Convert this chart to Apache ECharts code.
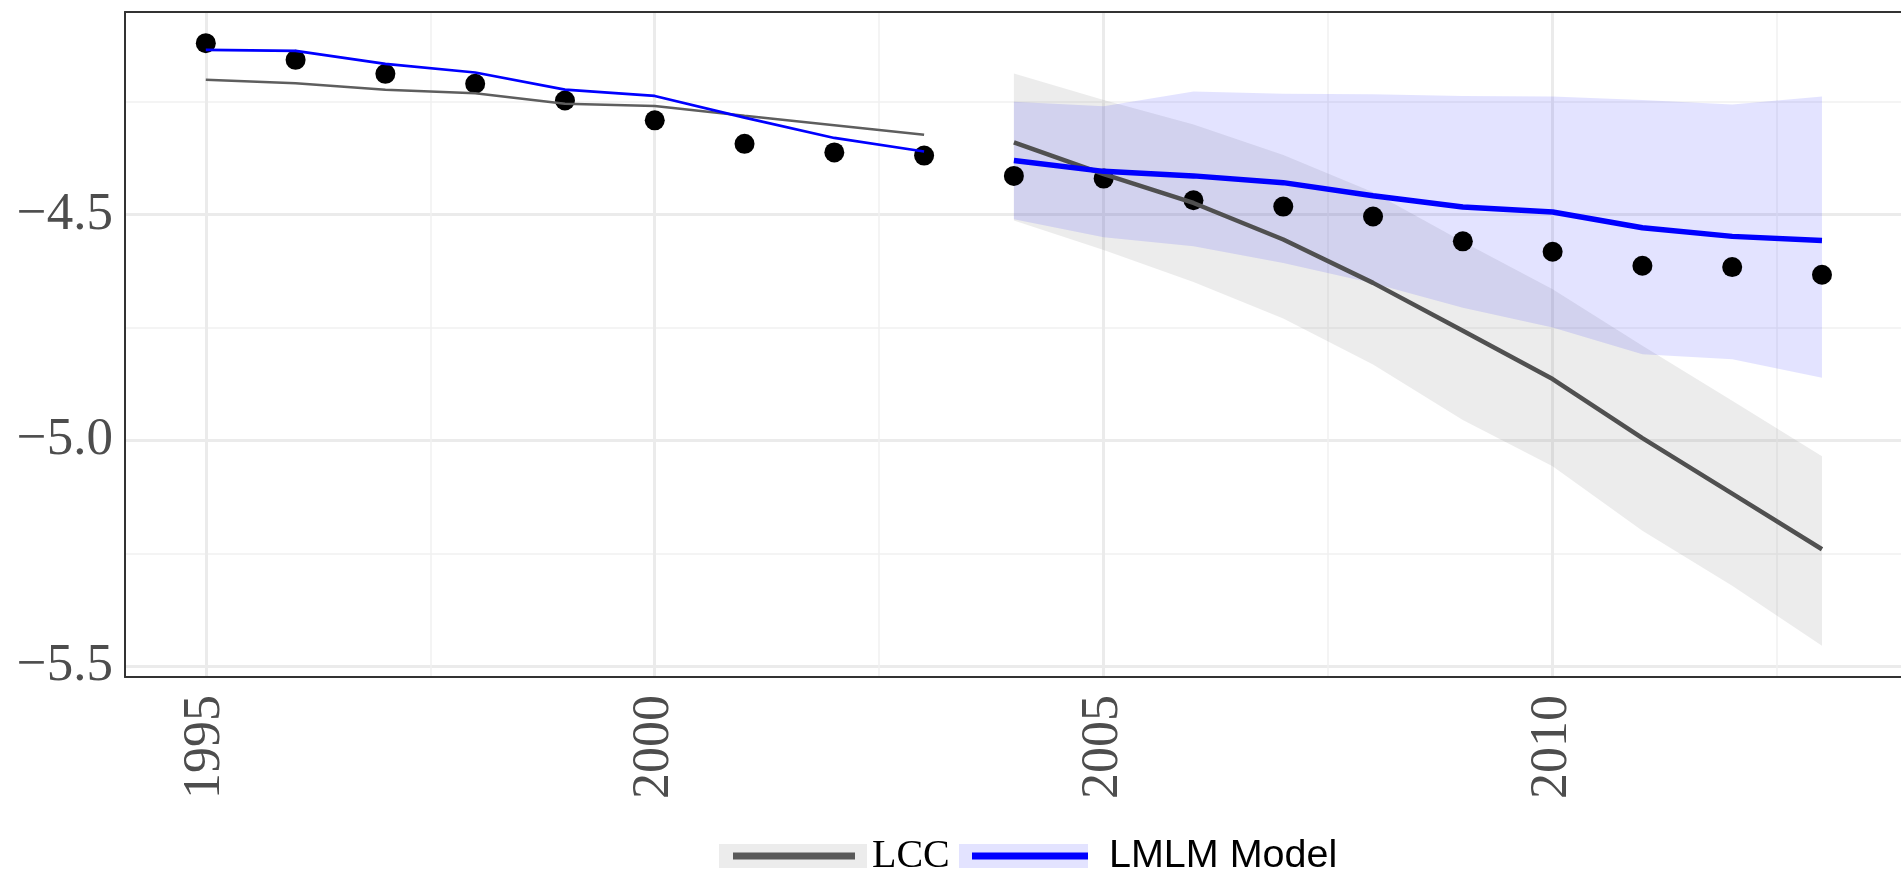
<!DOCTYPE html>
<html>
<head>
<meta charset="utf-8">
<script src="https://cdn.jsdelivr.net/npm/echarts@6/dist/echarts.min.js"></script>
<style>html,body{margin:0;padding:0;background:#fff;}#chart{width:1901px;height:879px;}</style>
</head>
<body>
<div id="chart"></div>
<script>
// ---- data ----
const obsYears = [1995,1996,1997,1998,1999,2000,2001,2002,2003,2004,2005,2006,2007,2008,2009,2010,2011,2012,2013];
const observed = [-4.120,-4.157,-4.188,-4.210,-4.247,-4.291,-4.343,-4.362,-4.369,-4.414,-4.420,-4.468,-4.482,-4.504,-4.559,-4.582,-4.613,-4.616,-4.633];
const fitYears = [1995,1996,1997,1998,1999,2000,2001,2002,2003];
const lmlmFit = [-4.135,-4.137,-4.166,-4.185,-4.223,-4.237,-4.285,-4.330,-4.360];
const lccFit = [-4.201,-4.209,-4.223,-4.231,-4.254,-4.259,-4.281,-4.302,-4.323];
const predYears = [2004,2005,2006,2007,2008,2009,2010,2011,2012,2013];
const lmlmPred = [-4.380,-4.404,-4.414,-4.429,-4.458,-4.483,-4.494,-4.529,-4.548,-4.557];
const lccPred = [-4.340,-4.410,-4.474,-4.555,-4.651,-4.757,-4.864,-4.995,-5.118,-5.241];
const lccHi = [-4.187,-4.246,-4.300,-4.368,-4.450,-4.560,-4.665,-4.790,-4.912,-5.035];
const lccLo = [-4.513,-4.578,-4.649,-4.730,-4.832,-4.955,-5.057,-5.200,-5.322,-5.455];
const lmlmHi = [-4.250,-4.260,-4.227,-4.232,-4.233,-4.237,-4.238,-4.246,-4.256,-4.238];
const lmlmLo = [-4.510,-4.550,-4.570,-4.607,-4.652,-4.706,-4.750,-4.809,-4.820,-4.861];
const xTicks = [1995,2000,2005,2010];
const xMinorTicks = [1997.5,2002.5,2007.5,2012.5];
const yTicks = [-5.5,-5.0,-4.5];
const yMinorTicks = [-5.25,-4.75,-4.25];
const legendNames = ['LCC','LMLM Model'];

// ---- helpers ----
const pairs = (xs, ys) => xs.map((x, i) => [x, ys[i]]);
function bandSeries(name, xs, lo, hi, fill, z) {
  return {
    type: 'custom', name: name, silent: true, clip: true, z: z,
    data: xs.map((x, i) => [x, lo[i], hi[i]]),
    encode: { x: 0, y: [1, 2] },
    renderItem: function (params, api) {
      if (params.dataIndex !== 0) return null;
      const pts = [];
      for (let i = 0; i < xs.length; i++) pts.push(api.coord([xs[i], hi[i]]));
      for (let i = xs.length - 1; i >= 0; i--) pts.push(api.coord([xs[i], lo[i]]));
      return { type: 'polygon', shape: { points: pts }, style: { fill: fill } };
    }
  };
}
function svgIcon(w, h, boxW, boxFill, x1, x2, stroke) {
  const svg = "<svg xmlns='http://www.w3.org/2000/svg' width='" + w + "' height='" + h + "' viewBox='0 0 " + w + " " + h + "'>" +
    "<rect x='0' y='0' width='" + boxW + "' height='" + h + "' fill='" + boxFill + "'/>" +
    "<line x1='" + x1 + "' y1='" + (h / 2) + "' x2='" + x2 + "' y2='" + (h / 2) + "' stroke='" + stroke + "' stroke-width='7'/></svg>";
  return 'image://data:image/svg+xml;charset=utf-8,' + encodeURIComponent(svg);
}
const minusFmt = v => (v < 0 ? '\u2212' : '') + Math.abs(v).toFixed(1);

const XMIN = 1994.1, XMAX = 2013.88, YMIN = -5.524, YMAX = -4.051;
const axisColor = '#333333';
const labelFont = 'Liberation Serif';

const chart = echarts.init(document.getElementById('chart'), null, { renderer: 'canvas' });
chart.setOption({
  backgroundColor: '#ffffff',
  animation: false,
  grid: { left: 125, right: 0, top: 12, bottom: 202, containLabel: false },
  legend: [
    {
      data: [legendNames[0]], left: 719, top: 836, padding: 0, selectedMode: false,
      itemWidth: 148, itemHeight: 24,
      icon: svgIcon(148, 24, 148, '#ececec', 14, 136, '#595959'),
      textStyle: { fontFamily: 'Liberation Serif', fontSize: 40, color: '#000' }
    },
    {
      data: [legendNames[1]], left: 959, top: 836, padding: 0, selectedMode: false,
      itemWidth: 145, itemHeight: 24,
      icon: svgIcon(145, 24, 129, '#e3e3ff', 13, 129, '#0000ff'),
      textStyle: { fontFamily: 'Liberation Sans', fontSize: 39.5, color: '#000' }
    }
  ],
  xAxis: [
    {
      type: 'value', min: XMIN, max: XMAX, position: 'bottom',
      axisLine: { show: true, onZero: false, lineStyle: { color: axisColor, width: 2 } },
      axisTick: { show: false, customValues: xTicks },
      axisLabel: { customValues: xTicks, rotate: 90, margin: 18, fontSize: 52, fontFamily: labelFont, color: '#4d4d4d', formatter: v => String(v) },
      splitLine: { show: true, lineStyle: { color: '#ebebeb', width: 3 } }
    },
    {
      type: 'value', min: XMIN, max: XMAX, position: 'top',
      axisLine: { show: true, onZero: false, lineStyle: { color: axisColor, width: 2 } },
      axisTick: { show: false, customValues: xMinorTicks },
      axisLabel: { show: false, customValues: xMinorTicks },
      splitLine: { show: true, lineStyle: { color: '#f1f1f1', width: 1.5 } }
    }
  ],
  yAxis: [
    {
      type: 'value', min: YMIN, max: YMAX, position: 'left',
      axisLine: { show: true, onZero: false, lineStyle: { color: axisColor, width: 2 } },
      axisTick: { show: false, customValues: yTicks },
      axisLabel: { customValues: yTicks, margin: 12, fontSize: 53, fontFamily: labelFont, color: '#4d4d4d', formatter: minusFmt },
      splitLine: { show: true, lineStyle: { color: '#ebebeb', width: 3 } }
    },
    {
      type: 'value', min: YMIN, max: YMAX, position: 'right',
      axisLine: { show: false },
      axisTick: { show: false, customValues: yMinorTicks },
      axisLabel: { show: false, customValues: yMinorTicks },
      splitLine: { show: true, lineStyle: { color: '#f1f1f1', width: 1.5 } }
    }
  ],
  series: [
    bandSeries('LCC band', predYears, lccLo, lccHi, 'rgba(128,128,128,0.15)', 1),
    bandSeries('LMLM band', predYears, lmlmLo, lmlmHi, 'rgba(0,0,255,0.11)', 1),
    {
      type: 'scatter', name: 'Observed', data: pairs(obsYears, observed),
      symbol: 'circle', symbolSize: 20, itemStyle: { color: '#000000', opacity: 1 }, z: 3, silent: true
    },
    {
      type: 'line', name: legendNames[0], data: pairs(fitYears, lccFit), showSymbol: false,
      lineStyle: { color: '#5e5e5e', width: 2.5 }, itemStyle: { color: '#5e5e5e' }, z: 4
    },
    {
      type: 'line', name: legendNames[1], data: pairs(fitYears, lmlmFit), showSymbol: false,
      lineStyle: { color: '#0000ff', width: 2.7 }, itemStyle: { color: '#0000ff' }, z: 4
    },
    {
      type: 'line', name: legendNames[0], data: pairs(predYears, lccPred), showSymbol: false,
      lineStyle: { color: '#505050', width: 4.5 }, itemStyle: { color: '#505050' }, z: 4
    },
    {
      type: 'line', name: legendNames[1], data: pairs(predYears, lmlmPred), showSymbol: false,
      lineStyle: { color: '#0000ff', width: 5.5 }, itemStyle: { color: '#0000ff' }, z: 4
    }
  ]
});
</script>
</body>
</html>
